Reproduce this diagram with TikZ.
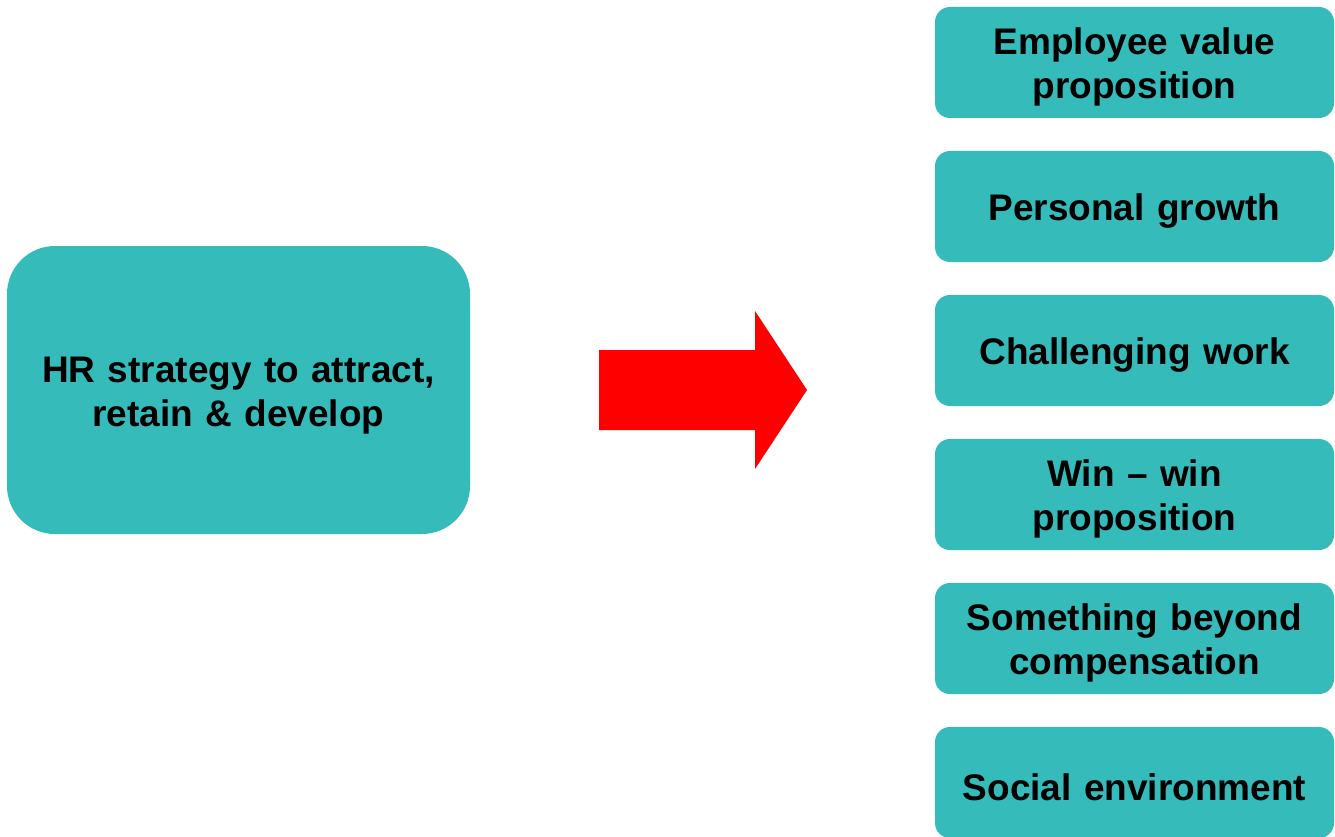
\documentclass[tikz,border=0pt]{standalone}
\usepackage{fontspec}
\setmainfont{Liberation Sans}
\definecolor{teal1}{RGB}{54,187,187}
\definecolor{arrowred}{RGB}{255,0,0}
\begin{document}
\begin{tikzpicture}[x=1pt,y=-1pt,
  rbox/.style={fill=teal1, rounded corners=15pt, minimum width=399pt, minimum height=111pt, inner sep=0pt},
  bigbox/.style={fill=teal1, rounded corners=48pt, minimum width=463pt, minimum height=288pt, inner sep=0pt},
  lbl/.style={align=center, font=\fontsize{37}{44}\selectfont\bfseries, inner sep=0pt, text width=455pt}]
\useasboundingbox (0,0) rectangle (1335,837);
\node[bigbox] (hr) at (238.5,390) {};
\node[lbl] (hrt) at ([yshift=-6pt]hr.center) {HR strategy to attract,\\retain \& develop};
\node[rbox] (b1) at (1134.5,62.5) {};
\node[rbox] (b2) at (1134.5,206.5) {};
\node[rbox] (b3) at (1134.5,350.5) {};
\node[rbox] (b4) at (1134.5,494.5) {};
\node[rbox] (b5) at (1134.5,638.5) {};
\node[rbox] (b6) at (1134.5,782.5) {};
\node[lbl] (t1) at ([yshift=-4.5pt]b1.center) {Employee value\\proposition};
\node[lbl] (t2) at ([yshift=-4.5pt]b2.center) {Personal growth};
\node[lbl] (t3) at ([yshift=-4.5pt]b3.center) {Challenging work};
\node[lbl] (t4) at ([yshift=-4.5pt]b4.center) {Win -- win\\proposition};
\node[lbl] (t5) at ([yshift=-4.5pt]b5.center) {Something beyond\\compensation};
\node[lbl] (t6) at ([yshift=-4.5pt]b6.center) {Social environment};
\fill[arrowred] (599,350) -- (755,350) -- (755,311) -- (807,390) -- (755,469) -- (755,430) -- (599,430) -- cycle;
\end{tikzpicture}
\end{document}
